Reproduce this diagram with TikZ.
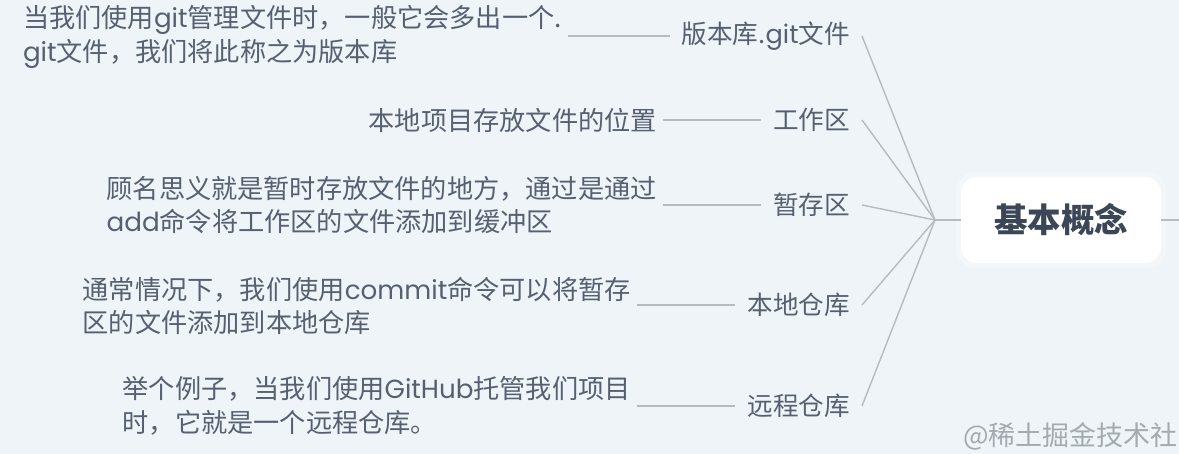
\documentclass[tikz,border=0pt]{standalone}
\usepackage{fontspec}
\setmainfont{Noto Sans CJK SC}
\newfontfamily\lat{Poppins}
\definecolor{bg}{HTML}{EEF4F7}
\definecolor{txt}{HTML}{566070}
\definecolor{dark}{HTML}{3B4657}
\definecolor{ln}{HTML}{B4BCC2}
\definecolor{wm}{HTML}{A3AAB0}
\tikzset{
  desc/.style={anchor=east, inner xsep=6pt, inner ysep=0pt, align=left, text=txt,
    font=\fontsize{26.2}{33.5}\selectfont},
  child/.style={anchor=east, inner xsep=12pt, inner ysep=3pt, text=txt,
    font=\fontsize{25.6}{30}\selectfont},
  conn/.style={draw=ln, line width=1.4pt},
  hubbox/.style={fill=white, rounded corners=16pt, minimum width=200pt, minimum height=86pt,
    text=dark, font=\fontsize{33.5}{38}\selectfont\bfseries},
}
\begin{document}
\begin{tikzpicture}[x=1pt,y=-1pt]
\fill[bg] (0,0) rectangle (1179,454);
\useasboundingbox (0,0) rectangle (1179,454);
% hub and centre
\coordinate (hub) at (935,220);
\coordinate (rightend) at (1179,220);
\fill[white, opacity=0.35, rounded corners=20pt] (956,172) rectangle (1166,268);
\node[hubbox] (center) at (1061,220) {基本概念};
% children
\node[child] (c1) at (862,36) {版本库.{\lat git}文件};
\node[child] (c2) at (862,120) {工作区};
\node[child] (c3) at (862,205) {暂存区};
\node[child] (c4) at (862,305) {本地仓库};
\node[child] (c5) at (862,406) {远程仓库};
% descriptions
\node[desc] (d1) at (568,37) {当我们使用{\lat git}管理文件时，一般它会多出一个.\\{\lat git}文件，我们将此称之为版本库};
\node[desc] (d2) at (663,120) {本地项目存放文件的位置};
\node[desc] (d3) at (663,205) {顾名思义就是暂时存放文件的地方，通过是通过\\{\lat add}命令将工作区的文件添加到缓冲区};
\node[desc] (d4) at (637,306) {通常情况下，我们使用{\lat commit}命令可以将暂存\\区的文件添加到本地仓库};
\node[desc] (d5) at (637,406) {举个例子，当我们使用{\lat GitHub}托管我们项目\\时，它就是一个远程仓库。};
% connectors
\foreach \i in {1,...,5}{
  \draw[conn] (c\i.east) -- (hub);
  \draw[conn] (c\i.west -| d\i.east) -- (c\i.west);
}
\draw[conn] (hub) -- (center.west);
\draw[conn] (center.east) -- (rightend);
% watermark
\node[anchor=east, inner sep=0pt, text=wm, font=\fontsize{27}{30}\selectfont] (wmk) at (1178,436) {@稀土掘金技术社};
\end{tikzpicture}
\end{document}
